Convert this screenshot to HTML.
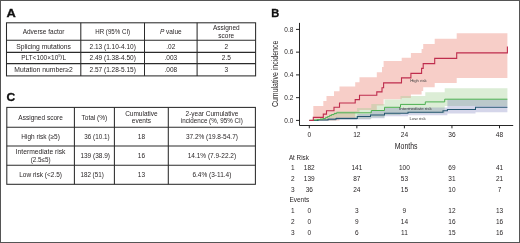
<!DOCTYPE html>
<html><head><meta charset="utf-8"><style>
html,body{margin:0;padding:0;background:#fff;}
body{width:520px;height:243px;overflow:hidden;}
svg{display:block;will-change:transform;font-family:"Liberation Sans",sans-serif;}
</style></head><body>
<svg width="520" height="243" viewBox="0 0 520 243">
<rect x="0" y="0" width="520" height="243" fill="#fff"/>

<path d="M313.3,106.0H323.3V101.0H326.5V96.1H334.0V91.2H339.5V86.6H355.2V82.3H359.5V77.3H376.8V72.2H382.0V67.0H383.6V61.0H401.7V57.8H410.9V53.1H421.6V49.1H423.2V44.1H434.7V38.8H456.7V33.3H507.4V78.1H456.7V83.0H434.7V87.2H423.2V91.0H421.6V94.5H410.9V98.0H401.7V99.3H383.6V105.5H376.8V110.0H359.5V112.5H355.2V118.4H339.5V120.4H313.3Z" fill="#f0a59b" fill-opacity="0.55"/>
<path d="M313.5,119.0H320.0V118.0H325.5V116.0H329.5V114.0H334.0V112.0H336.5V111.0H357.0V108.0H371.3V104.0H384.5V99.5H400.5V96.0H425.3V92.3H444.7V88.3H507.4V106.0H444.7V113.2H400.5V115.0H384.5V117.5H371.3V119.0H357.0V119.5H336.5V120.4H313.5Z" fill="#a2d094" fill-opacity="0.38"/>
<path d="M318.0,119.0H328.0V118.0H336.0V117.0H357.3V114.0H370.5V111.0H384.5V108.0H408.0V107.4H447.4V99.5H507.4V112.3H475.5V113.5H447.4V115.2H408.0V116.3H384.5V118.3H370.5V119.4H357.3V119.9H336.0V120.4H318.0Z" fill="#575bab" fill-opacity="0.25"/>
<path d="M309.3,120.4H318.0V119.9H328.0V119.2H336.0V118.4H357.3V116.5H370.5V114.9H384.5V113.3H408.0V112.2H443.0V110.8H447.4V109.4H475.5V107.2H507.4" fill="none" stroke="#245670" stroke-width="1.05"/>
<path d="M309.3,120.4H313.5V120.0H317.0V119.6H320.0V119.2H323.0V118.6H325.5V117.6H327.5V116.6H329.5V115.6H331.5V114.6H334.0V113.6H336.5V112.8H371.3V110.5H384.5V107.3H400.5V104.4H425.3V101.9H444.7V99.2H507.4" fill="none" stroke="#4cb050" stroke-width="1"/>
<path d="M309.3,120.4H313.3V117.4H323.3V114.1H326.5V110.7H334.0V107.2H339.5V103.0H355.2V99.6H359.5V95.3H376.8V91.9H382.0V87.8H383.6V82.9H401.5V77.9H410.9V73.4H421.6V68.4H423.2V63.6H434.7V58.4H456.7V52.9H507.4V46.4" fill="none" stroke="#bf2d4d" stroke-width="1.1"/>
<g fill="#3a3a3a" font-size="4.3">
<text x="410.3" y="82.3" textLength="16.4" lengthAdjust="spacingAndGlyphs">High risk</text>
<text x="399.1" y="110.2" textLength="32.6" lengthAdjust="spacingAndGlyphs">Intermediate risk</text>
<text x="409.5" y="119.6" textLength="16.3" lengthAdjust="spacingAndGlyphs">Low risk</text>
</g>
<g stroke="#1a1a1a" stroke-width="0.95" fill="none">
<path d="M299.5,22.9V125.5H513.2"/>
<path d="M296,120.40H299.5"/>
<path d="M296,97.65H299.5"/>
<path d="M296,74.90H299.5"/>
<path d="M296,52.15H299.5"/>
<path d="M296,29.40H299.5"/>
<path d="M309.30,125.5V128.3"/>
<path d="M356.85,125.5V128.3"/>
<path d="M404.40,125.5V128.3"/>
<path d="M451.95,125.5V128.3"/>
<path d="M499.50,125.5V128.3"/>
</g>
<g fill="#231f20" font-size="7.6" text-anchor="end">
<text x="293.3" y="122.70" textLength="9.0" lengthAdjust="spacingAndGlyphs">0.0</text>
<text x="293.3" y="99.95" textLength="9.0" lengthAdjust="spacingAndGlyphs">0.2</text>
<text x="293.3" y="77.20" textLength="9.0" lengthAdjust="spacingAndGlyphs">0.4</text>
<text x="293.3" y="54.45" textLength="9.0" lengthAdjust="spacingAndGlyphs">0.6</text>
<text x="293.3" y="31.70" textLength="9.0" lengthAdjust="spacingAndGlyphs">0.8</text>
</g>
<g fill="#231f20" font-size="6.6" text-anchor="middle">
<text x="309.30" y="136.6">0</text>
<text x="356.85" y="136.6">12</text>
<text x="404.40" y="136.6">24</text>
<text x="451.95" y="136.6">36</text>
<text x="499.50" y="136.6">48</text>
</g>
<text x="406.2" y="149.4" font-size="9" fill="#231f20" text-anchor="middle" textLength="22.7" lengthAdjust="spacingAndGlyphs">Months</text>
<text transform="translate(277.7,73.9) rotate(-90)" font-size="8.3" fill="#231f20" text-anchor="middle" textLength="66.4" lengthAdjust="spacingAndGlyphs">Cumulative incidence</text>
<g fill="#231f20" font-size="6.5">
<text x="288.9" y="159.7" textLength="20" lengthAdjust="spacingAndGlyphs">At Risk</text>
<text x="289.4" y="202.4" textLength="19.8" lengthAdjust="spacingAndGlyphs">Events</text>
</g>
<g fill="#231f20" font-size="6.5" text-anchor="middle">
<text x="292.9" y="170.4">1</text>
<text x="309.30" y="170.4">182</text>
<text x="356.85" y="170.4">141</text>
<text x="404.40" y="170.4">100</text>
<text x="451.95" y="170.4">69</text>
<text x="499.50" y="170.4">41</text>
<text x="292.9" y="212.8">1</text>
<text x="309.30" y="212.8">0</text>
<text x="356.85" y="212.8">3</text>
<text x="404.40" y="212.8">9</text>
<text x="451.95" y="212.8">12</text>
<text x="499.50" y="212.8">13</text>
<text x="292.9" y="181.3">2</text>
<text x="309.30" y="181.3">139</text>
<text x="356.85" y="181.3">87</text>
<text x="404.40" y="181.3">53</text>
<text x="451.95" y="181.3">31</text>
<text x="499.50" y="181.3">21</text>
<text x="292.9" y="223.6">2</text>
<text x="309.30" y="223.6">0</text>
<text x="356.85" y="223.6">9</text>
<text x="404.40" y="223.6">14</text>
<text x="451.95" y="223.6">16</text>
<text x="499.50" y="223.6">16</text>
<text x="292.9" y="192.4">3</text>
<text x="309.30" y="192.4">36</text>
<text x="356.85" y="192.4">24</text>
<text x="404.40" y="192.4">15</text>
<text x="451.95" y="192.4">10</text>
<text x="499.50" y="192.4">7</text>
<text x="292.9" y="234.6">3</text>
<text x="309.30" y="234.6">0</text>
<text x="356.85" y="234.6">6</text>
<text x="404.40" y="234.6">11</text>
<text x="451.95" y="234.6">15</text>
<text x="499.50" y="234.6">16</text>
</g>
<g fill="#111" font-size="11.5" font-weight="bold" stroke="#111" stroke-width="0.3">
<text x="6.5" y="16.7" textLength="9.3" lengthAdjust="spacingAndGlyphs">A</text>
<text x="271.3" y="16.7" textLength="8.0" lengthAdjust="spacingAndGlyphs">B</text>
<text x="6.5" y="101.2" textLength="8.7" lengthAdjust="spacingAndGlyphs">C</text>
</g>
<g stroke="#2b2b2b" stroke-width="1.05" fill="none">
<rect x="6.5" y="22.8" width="249.1" height="53.1"/>
<path d="M80.8,22.8V75.9"/>
<path d="M144.5,22.8V75.9"/>
<path d="M197.1,22.8V75.9"/>
<path d="M6.5,40.3H255.6"/>
<path d="M6.5,52.35H255.6"/>
<path d="M6.5,63.6H255.6"/>
</g>
<g fill="#231f20" font-size="6.5" text-anchor="middle">
<text x="43.6" y="33.5">Adverse factor</text>
<text x="112.7" y="33.5" textLength="34.9" lengthAdjust="spacingAndGlyphs">HR (95% CI)</text>
<text x="170.8" y="33.5"><tspan font-style="italic">P</tspan> value</text>
<text x="226.3" y="29.6">Assigned</text>
<text x="226.3" y="37.7">score</text>
<text x="43.6" y="48.6" textLength="54.7" lengthAdjust="spacingAndGlyphs">Splicing mutations</text>
<text x="112.7" y="48.6">2.13 (1.10-4.10)</text>
<text x="170.8" y="48.6">.02</text>
<text x="226.3" y="48.6">2</text>
<text x="43.6" y="60.2">PLT&lt;100×10<tspan font-size="4.2" dy="-3.0">9</tspan><tspan dy="3.0">/L</tspan></text>
<text x="112.7" y="60.2">2.49 (1.38-4.50)</text>
<text x="170.8" y="60.2">.003</text>
<text x="226.3" y="60.2">2.5</text>
<text x="43.6" y="72.0" textLength="58.5" lengthAdjust="spacingAndGlyphs">Mutation number≥2</text>
<text x="112.7" y="72.0">2.57 (1.28-5.15)</text>
<text x="170.8" y="72.0">.008</text>
<text x="226.3" y="72.0">3</text>
</g>
<g stroke="#2b2b2b" stroke-width="1.05" fill="none">
<rect x="6.8" y="107.4" width="248.6" height="76.9"/>
<path d="M74.4,107.4V184.3"/>
<path d="M114.4,107.4V184.3"/>
<path d="M168.3,107.4V184.3"/>
<path d="M6.8,127.3H255.4"/>
<path d="M6.8,145.9H255.4"/>
<path d="M6.8,165.3H255.4"/>
</g>
<g fill="#231f20" font-size="6.5" text-anchor="middle">
<text x="40.6" y="119.7">Assigned score</text>
<text x="94.4" y="119.7">Total (%)</text>
<text x="141.4" y="116.1">Cumulative</text>
<text x="141.4" y="123.3">events</text>
<text x="211.9" y="116.1">2-year Cumulative</text>
<text x="211.9" y="123.3" textLength="62.0" lengthAdjust="spacingAndGlyphs">incidence (%, 95% CI)</text>
<text x="40.6" y="138.9">High risk (≥5)</text>
<text x="40.6" y="153.7" textLength="49.8" lengthAdjust="spacingAndGlyphs">Intermediate risk</text>
<text x="40.6" y="161.5" textLength="19.8" lengthAdjust="spacingAndGlyphs">(2.5≤5)</text>
<text x="40.6" y="177.1">Low risk (&lt;2.5)</text>
<text x="141.4" y="138.9">18</text>
<text x="141.4" y="157.7">16</text>
<text x="141.4" y="177.1">13</text>
<text x="211.9" y="138.9">37.2% (19.8-54.7)</text>
<text x="211.9" y="157.7">14.1% (7.9-22.2)</text>
<text x="211.9" y="177.1">6.4% (3-11.4)</text>
</g>
<g fill="#231f20" font-size="6.5">
<text x="84.3" y="138.9" textLength="25.2" lengthAdjust="spacingAndGlyphs">36 (10.1)</text>
<text x="80.4" y="157.7" textLength="29.6" lengthAdjust="spacingAndGlyphs">139 (38.9)</text>
<text x="80.4" y="177.1" textLength="23.4" lengthAdjust="spacingAndGlyphs">182 (51)</text>
</g>
<rect x="0.5" y="0.5" width="519" height="242" fill="none" stroke="#555" stroke-width="1"/>
</svg>
</body></html>
